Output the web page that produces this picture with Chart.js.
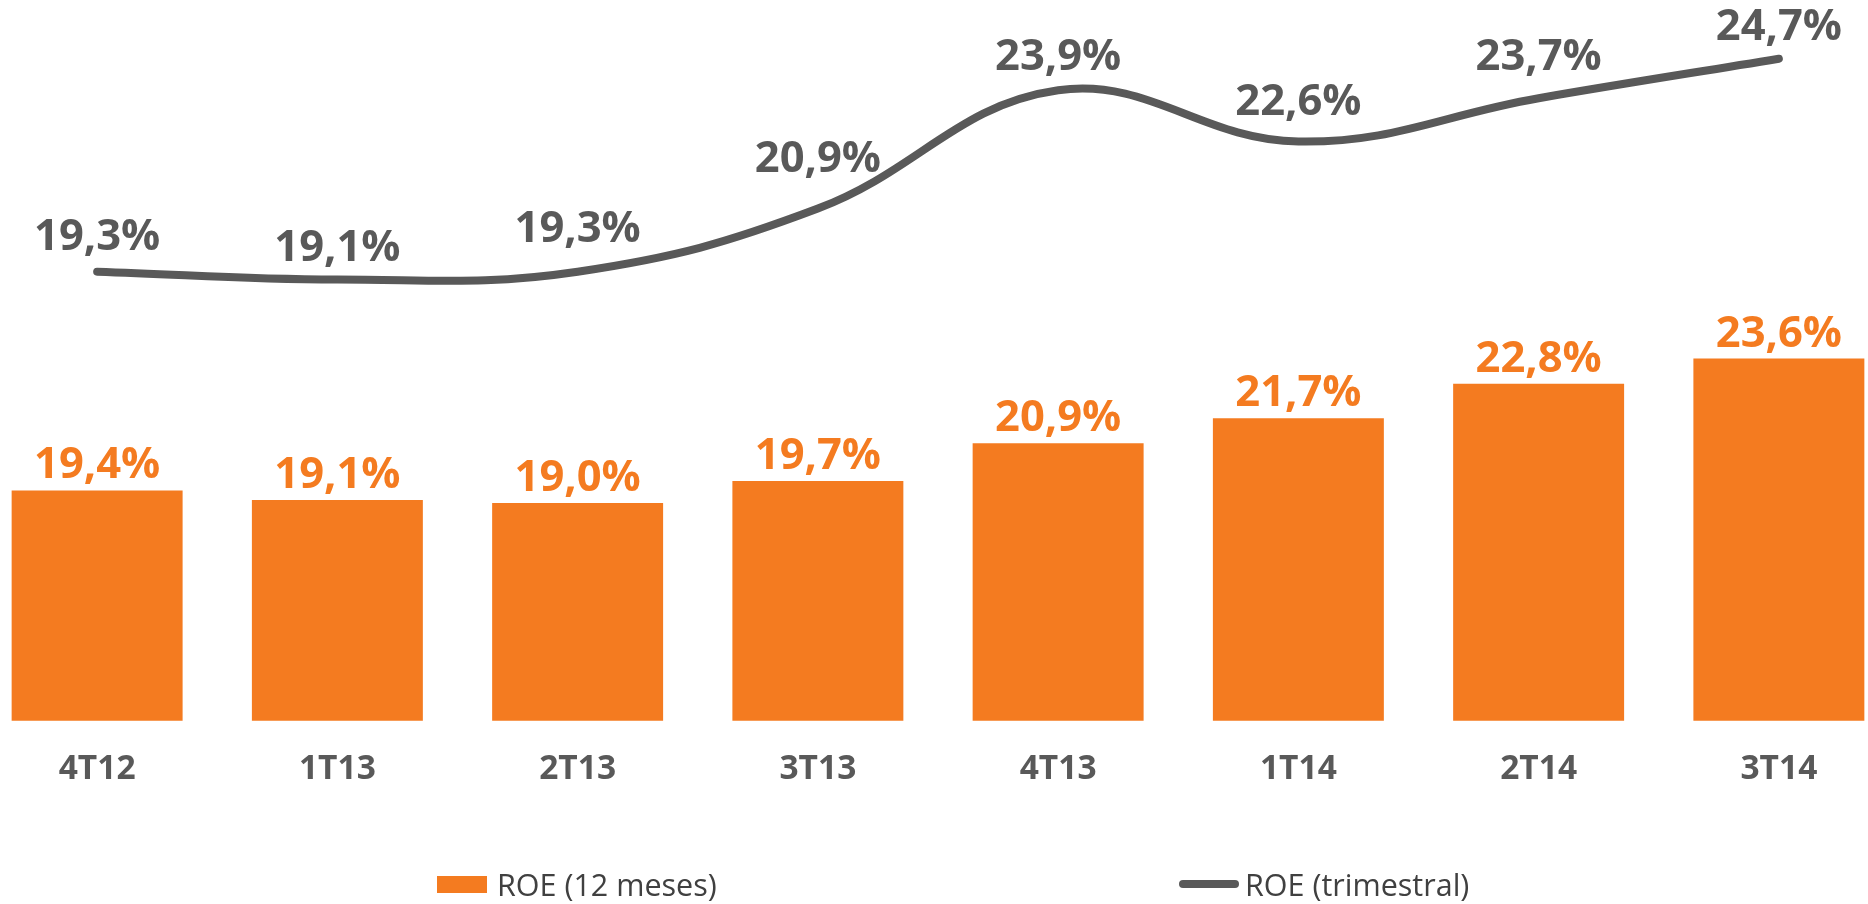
<!DOCTYPE html>
<html><head><meta charset="utf-8">
<script src="https://cdn.jsdelivr.net/npm/chart.js@4/dist/chart.umd.min.js"></script>
<style>
html,body{margin:0;padding:0;background:#fff;width:1868px;height:904px;overflow:hidden;position:relative;font-family:"Open Sans",sans-serif}
#c{position:absolute;left:-23px;top:0}
.sw{position:absolute}
.lt{position:absolute;font-family:"Open Sans",sans-serif;font-size:30.5px;line-height:40px;color:#404040;white-space:nowrap}
</style></head><body>
<canvas id="c" width="1922" height="904"></canvas>
<div id="legend"></div>
<script>
// ---- data ----
const categories = ['4T12', '1T13', '2T13', '3T13', '4T13', '1T14', '2T14', '3T14'];
const roe12m = [19.4, 19.1, 19.0, 19.7, 20.9, 21.7, 22.8, 23.6];
const roeTrim = [19.3, 19.1, 19.3, 20.9, 23.9, 22.6, 23.7, 24.7];
const seriesNames = ['ROE (12 meses)', 'ROE (trimestral)'];

// ---- style ----
const ORANGE = '#F47B20';
const GREY = '#595959';
const barLabelLift = 27;
const lineLabelLift = [37, 34, 45, 52, 35, 42, 43, 34];

const fmt = v => v.toFixed(1).replace('.', ',') + '%';

const valueLabels = {
  id: 'valueLabels',
  afterDatasetsDraw(chart) {
    const ctx = chart.ctx;
    ctx.save();
    ctx.font = 'bold 43.5px "Open Sans"';
    ctx.textAlign = 'center';
    ctx.textBaseline = 'alphabetic';
    const capHalf = 15;
    chart.data.datasets.forEach((ds, di) => {
      const meta = chart.getDatasetMeta(di);
      const isLine = meta.type === 'line';
      ctx.fillStyle = isLine ? GREY : ORANGE;
      meta.data.forEach((el, i) => {
        const lift = isLine ? lineLabelLift[i] : barLabelLift;
        ctx.fillText(fmt(ds.data[i]), el.x, el.y - lift + capHalf);
      });
    });
    ctx.restore();
  }
};

// legend (HTML)
const lg = document.getElementById('legend');
lg.innerHTML =
  '<div class="sw" style="left:437px;top:876px;width:50px;height:17px;background:' + ORANGE + '"></div>' +
  '<div class="lt" style="left:497px;top:864px">' + seriesNames[0] + '</div>' +
  '<div class="sw" style="left:1179px;top:880px;width:60px;height:8px;border-radius:4px;background:' + GREY + '"></div>' +
  '<div class="lt" style="left:1245px;top:864px">' + seriesNames[1] + '</div>';

function draw() {
  new Chart(document.getElementById('c'), {
    data: {
      labels: categories,
      datasets: [
        {
          type: 'line', label: seriesNames[1], data: roeTrim, yAxisID: 'yLine',
          borderColor: GREY, borderWidth: 8, borderCapStyle: 'round', borderJoinStyle: 'round',
          tension: 0.4, pointRadius: 0, fill: false, order: 0
        },
        {
          type: 'bar', label: seriesNames[0], data: roe12m, yAxisID: 'yBar',
          backgroundColor: ORANGE, categoryPercentage: 1, barPercentage: 0.7116, order: 1
        }
      ]
    },
    options: {
      responsive: false, animation: false,
      layout: { padding: { top: 0, bottom: 85, left: 0, right: 0 } },
      plugins: { legend: { display: false }, tooltip: { enabled: false } },
      scales: {
        x: {
          offset: true,
          grid: { display: false, drawTicks: false },
          border: { display: false },
          ticks: { color: GREY, padding: 29, font: { family: 'Open Sans', weight: 'bold', size: 33.5, lineHeight: 1.2 } }
        },
        yBar: { display: false, min: 12.07, max: 35.01 },
        yLine: { display: false, min: 7.91, max: 26.19 }
      }
    },
    plugins: [valueLabels]
  });
}
Promise.all([
  document.fonts.load('bold 43px "Open Sans"'),
  document.fonts.load('bold 33px "Open Sans"'),
  document.fonts.load('30px "Open Sans"')
]).then(draw, draw);
</script>
</body></html>
